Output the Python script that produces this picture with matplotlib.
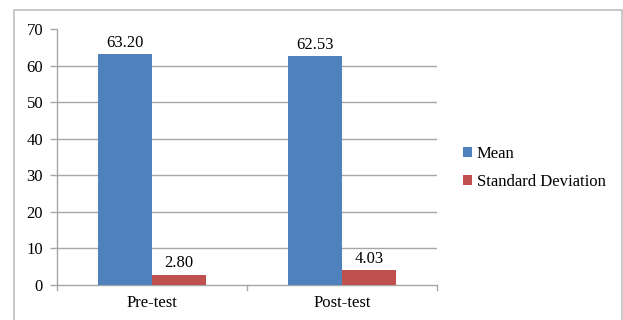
import matplotlib
matplotlib.use("Agg")
import matplotlib.pyplot as plt
from matplotlib.patches import Rectangle
import numpy as np

categories = ["Pre-test", "Post-test"]
mean_values = [63.20, 62.53]
sd_values = [2.80, 4.03]
series_names = ["Mean", "Standard Deviation"]
y_ticks = [0, 10, 20, 30, 40, 50, 60, 70]

blue = "#4F81BD"
red = "#C0504D"
grid_color = "#A6A6A6"
fs = 12

plt.rcParams["font.family"] = ["Liberation Serif", "DejaVu Serif"]

W, H = 623, 320
fig = plt.figure(figsize=(W / 100, H / 100), dpi=100)

# outer chart frame
fig.patches.append(Rectangle((14 / W, -0.1), (621.5 - 14) / W, 1.1 - 10 / H,
                             transform=fig.transFigure, fill=False,
                             edgecolor="#BFBFBF", linewidth=1.2))

left, right, bottom, top = 57, 437, 285, 29
ax = fig.add_axes([left / W, 1 - bottom / H, (right - left) / W, (bottom - top) / H])

x = np.arange(len(categories))
bw = 0.284
b1 = ax.bar(x - bw / 2, mean_values, bw, color=blue, label=series_names[0], zorder=3)
b2 = ax.bar(x + bw / 2, sd_values, bw, color=red, label=series_names[1], zorder=3)

for bars, vals in ((b1, mean_values), (b2, sd_values)):
    for r, v in zip(bars, vals):
        ax.text(r.get_x() + r.get_width() / 2, v + 0.9, f"{v:.2f}",
                ha="center", va="bottom", fontsize=fs, color="black")

ax.set_xlim(-0.5, 1.5)
ax.set_ylim(0, 70)
ax.set_yticks(y_ticks)
ax.set_yticklabels([str(t) for t in y_ticks], fontsize=fs)
ax.set_xticks(x)
ax.set_xticklabels(categories, fontsize=fs)
ax.tick_params(axis="x", length=0, pad=7)
ax.tick_params(axis="y", length=5, width=1, color=grid_color, pad=5)

# category boundary ticks on the x axis
for xb in [-0.5, 0.5, 1.5]:
    ax.plot([xb, xb], [0, -1.4], color=grid_color, lw=1, clip_on=False, zorder=4)

for yv in y_ticks[1:-1]:
    ax.axhline(yv, color=grid_color, lw=1, zorder=1)

for s in ["top", "right"]:
    ax.spines[s].set_visible(False)
for s in ["left", "bottom"]:
    ax.spines[s].set_color(grid_color)
    ax.spines[s].set_linewidth(1)

leg = fig.legend(handles=[b1, b2], labels=series_names,
                 loc="upper left", bbox_to_anchor=(456 / W, 1 - 139 / H),
                 frameon=False, fontsize=fs, handlelength=0.55, handleheight=0.55,
                 handletextpad=0.3, labelspacing=0.72, borderaxespad=0)

fig.savefig("out.png", dpi=100)
